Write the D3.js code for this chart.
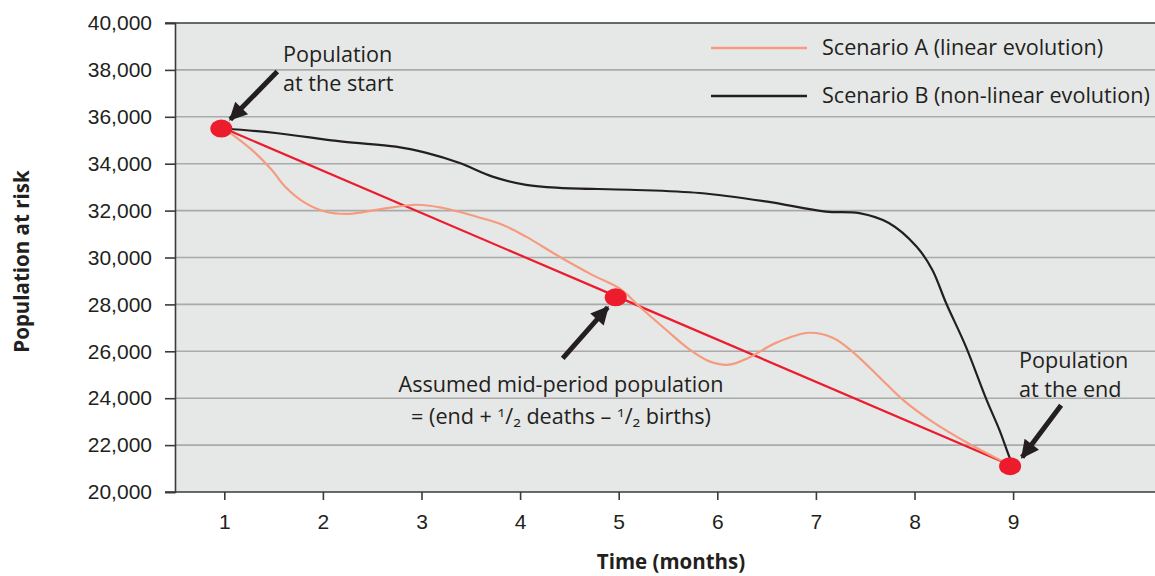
<!DOCTYPE html>
<html>
<head>
<meta charset="utf-8">
<script src="https://cdn.jsdelivr.net/npm/d3@7"></script>
<style>
  body { margin: 0; background: #fff; }
  svg { display: block; font-family: "Open Sans", "Noto Sans", sans-serif; font-variant-numeric: oldstyle-nums; }
</style>
</head>
<body>
<svg width="1155" height="576"></svg>
<script>
// months (x) and population at risk (y)
const xTicks = [1, 2, 3, 4, 5, 6, 7, 8, 9];
const yTicks = [20000, 22000, 24000, 26000, 28000, 30000, 32000, 34000, 36000, 38000, 40000];

// Scenario A (linear evolution)
const monthsA = [1, 1.28, 1.48, 1.62, 1.82, 2.03, 2.27, 2.54, 2.95, 3.21, 3.56, 3.82, 4.06, 4.40, 4.73,
  5.02, 5.21, 5.48, 5.72, 5.92, 6.12, 6.32, 6.60, 6.93, 7.17, 7.37, 7.67, 7.88, 8.18, 8.53, 8.86, 9];
const popA = [35500, 34590, 33740, 33010, 32330, 31950, 31860, 32030, 32250, 32120, 31740, 31400, 30890, 30030, 29260,
  28650, 27910, 26920, 26070, 25570, 25430, 25730, 26370, 26790, 26580, 25990, 24790, 23940, 23000, 22110, 21380, 21100];

// Scenario B (non-linear evolution)
const monthsB = [1, 1.52, 2.20, 2.74, 3.05, 3.38, 3.72, 4.06, 4.40, 5.11, 5.82, 6.49, 7.10, 7.44, 7.74,
  8.02, 8.18, 8.32, 8.52, 8.73, 8.86, 8.96, 9];
const popB = [35500, 35310, 34940, 34730, 34460, 34040, 33450, 33100, 32970, 32890, 32750, 32390, 31960, 31890, 31470,
  30470, 29480, 28060, 26210, 23940, 22660, 21520, 21100];

// start, assumed mid-period and end population
const keyMonths = [1, 5, 9];
const keyPop = [35500, 28300, 21100];

const svg = d3.select("svg");
const plot = { left: 175, top: 23, bottom: 492, right: 1155 };

const x = d3.scaleLinear().domain([0.5, 10.5]).range([plot.left, plot.left + 986]);
const y = d3.scaleLinear().domain([20000, 40000]).range([plot.bottom, plot.top]);

const gridColor = "#a9aaaa";
const axisColor = "#3a3a3a";
const salmon = "#f59b7e";
const red = "#ec1c2d";
const ink = "#231f20";

// background
svg.append("rect")
  .attr("x", plot.left).attr("y", plot.top)
  .attr("width", plot.right - plot.left).attr("height", plot.bottom - plot.top)
  .attr("fill", "#e6e7e7");

// gridlines
svg.append("g").selectAll("line")
  .data(yTicks.filter(d => d > 20000 && d < 40000))
  .join("line")
  .attr("x1", plot.left).attr("x2", plot.right)
  .attr("y1", d => y(d)).attr("y2", d => y(d))
  .attr("stroke", gridColor).attr("stroke-width", 1.6);

// y axis
const yAxis = svg.append("g")
  .attr("transform", `translate(${plot.left},0)`)
  .call(d3.axisLeft(y).tickValues(yTicks).tickFormat(d3.format(",")).tickSize(10).tickPadding(13));
yAxis.select(".domain").attr("stroke", axisColor).attr("stroke-width", 1.6);
yAxis.selectAll(".tick line").attr("stroke", axisColor).attr("stroke-width", 1.6);
yAxis.selectAll(".tick text")
  .attr("fill", "#231f20").style("font-size", "21px").style("font-family", "inherit");

// top border
svg.append("line")
  .attr("x1", plot.left - 10).attr("x2", plot.right)
  .attr("y1", y(40000)).attr("y2", y(40000))
  .attr("stroke", axisColor).attr("stroke-width", 1.6);

// x axis
const xAxis = svg.append("g")
  .attr("transform", `translate(0,${plot.bottom})`)
  .call(d3.axisBottom(x).tickValues(xTicks).tickFormat(d3.format("d")).tickSize(8).tickPadding(14));
xAxis.select(".domain").remove();
xAxis.append("line")
  .attr("x1", plot.left - 10).attr("x2", plot.right)
  .attr("stroke", axisColor).attr("stroke-width", 1.6);
xAxis.selectAll(".tick line").attr("stroke", axisColor).attr("stroke-width", 1.6);
xAxis.selectAll(".tick text")
  .attr("fill", "#231f20").style("font-size", "21px").style("font-family", "inherit");

// axis titles
svg.append("text")
  .attr("transform", `translate(29,261.5) rotate(-90)`)
  .attr("text-anchor", "middle")
  .style("font-size", "20.5px").style("font-weight", "bold").attr("fill", ink)
  .text("Population at risk");

svg.append("text")
  .attr("x", 671).attr("y", 569)
  .attr("text-anchor", "middle")
  .style("font-size", "20.5px").style("font-weight", "bold").attr("fill", ink)
  .text("Time (months)");

// lines
const line = d3.line()
  .x(d => x(d[0]))
  .y(d => y(d[1]))
  .curve(d3.curveCatmullRom.alpha(0.5));

svg.append("path")
  .datum(keyMonths.map((m, i) => [m, keyPop[i]]))
  .attr("d", d3.line().x(d => x(d[0])).y(d => y(d[1])))
  .attr("fill", "none").attr("stroke", red).attr("stroke-width", 2.2);

svg.append("path")
  .datum(monthsA.map((m, i) => [m, popA[i]]))
  .attr("d", line)
  .attr("fill", "none").attr("stroke", salmon).attr("stroke-width", 2.2);

svg.append("path")
  .datum(monthsB.map((m, i) => [m, popB[i]]))
  .attr("d", line)
  .attr("fill", "none").attr("stroke", ink).attr("stroke-width", 2.2);

// key points
svg.append("g").selectAll("ellipse")
  .data(keyMonths.map((m, i) => [m, keyPop[i]]))
  .join("ellipse")
  .attr("cx", d => x(d[0]) - 3)
  .attr("cy", d => y(d[1]))
  .attr("rx", 11).attr("ry", 9)
  .attr("fill", red);

// arrows
svg.append("defs").append("marker")
  .attr("id", "head")
  .attr("viewBox", "0 0 10 10")
  .attr("refX", 9).attr("refY", 5)
  .attr("markerWidth", 4.2).attr("markerHeight", 3.6)
  .attr("markerUnits", "strokeWidth")
  .attr("orient", "auto")
  .append("path").attr("d", "M0,0L10,5L0,10Z").attr("fill", ink);

const arrows = [
  { tip: [x(1) + 6, y(35500) - 9], dx: 47, dy: -48 },
  { tip: [x(5) - 11, y(28300) + 10], dx: -45, dy: 51 },
  { tip: [x(9) + 9, y(21100) - 9], dx: 39, dy: -52 }
];
svg.append("g").selectAll("line")
  .data(arrows)
  .join("line")
  .attr("x1", d => d.tip[0] + d.dx).attr("y1", d => d.tip[1] + d.dy)
  .attr("x2", d => d.tip[0]).attr("y2", d => d.tip[1])
  .attr("stroke", ink).attr("stroke-width", 5)
  .attr("marker-end", "url(#head)");

// annotations
const fs = "21.6px";
const note = (xx, yy, lines, anchor) => {
  const t = svg.append("text")
    .attr("x", xx).attr("y", yy)
    .attr("text-anchor", anchor || "start")
    .style("font-size", fs).attr("fill", ink);
  lines.forEach((s, i) => t.append("tspan").attr("x", xx).attr("dy", i ? 29 : 0).text(s));
};
note(283, 62, ["Population", "at the start"]);
note(1019, 368, ["Population", "at the end"]);
note(561, 392, ["Assumed mid-period population"], "middle");

const f = svg.append("text")
  .attr("x", 561).attr("y", 424)
  .attr("text-anchor", "middle")
  .style("font-size", fs).attr("fill", ink);
f.append("tspan").text("= (end + ");
f.append("tspan").attr("dy", -7).style("font-size", "14px").text("1");
f.append("tspan").attr("dy", 7).text("/");
f.append("tspan").attr("dy", 3).style("font-size", "14px").text("2");
f.append("tspan").attr("dy", -3).text(" deaths \u2013 ");
f.append("tspan").attr("dy", -7).style("font-size", "14px").text("1");
f.append("tspan").attr("dy", 7).text("/");
f.append("tspan").attr("dy", 3).style("font-size", "14px").text("2");
f.append("tspan").attr("dy", -3).text(" births)");

// legend
const legend = [
  { label: "Scenario A (linear evolution)", color: salmon, y: 48 },
  { label: "Scenario B (non-linear evolution)", color: ink, y: 96 }
];
const lg = svg.append("g").selectAll("g").data(legend).join("g");
lg.append("line")
  .attr("x1", 711).attr("x2", 807)
  .attr("y1", d => d.y).attr("y2", d => d.y)
  .attr("stroke", d => d.color).attr("stroke-width", 2.6);
lg.append("text")
  .attr("x", 822).attr("y", d => d.y + 7)
  .style("font-size", fs).attr("fill", ink)
  .text(d => d.label);
</script>
</body>
</html>
